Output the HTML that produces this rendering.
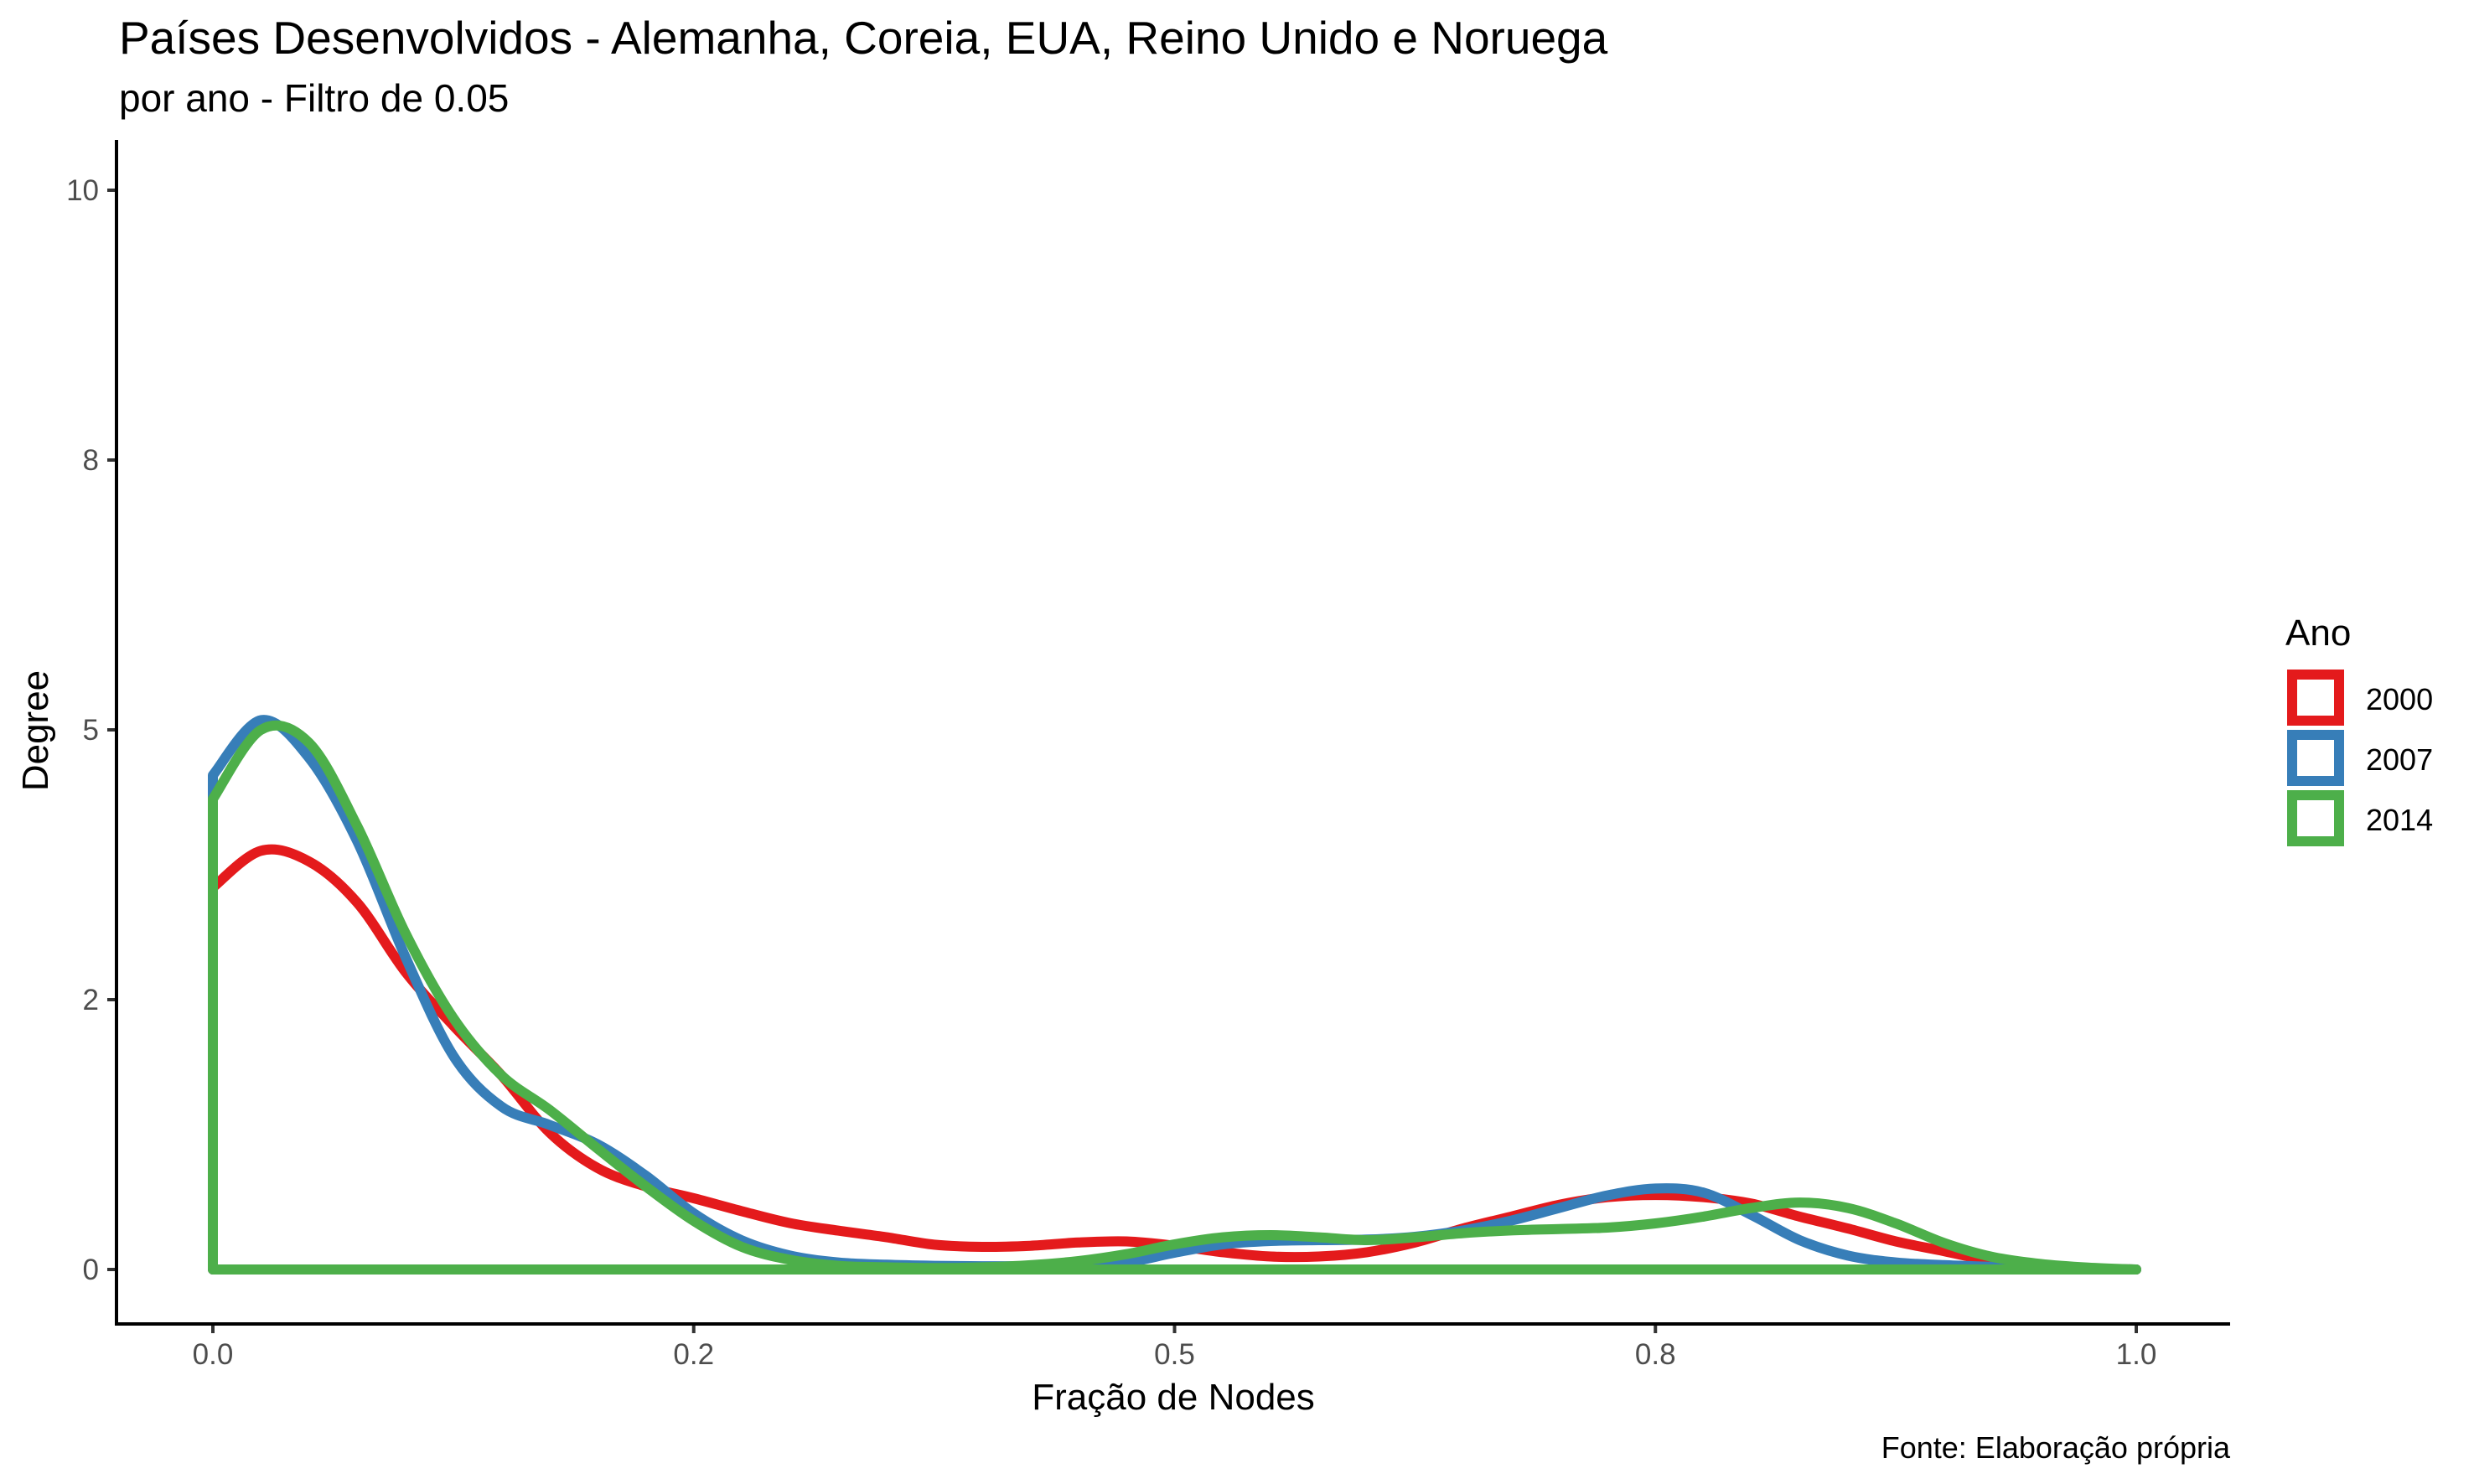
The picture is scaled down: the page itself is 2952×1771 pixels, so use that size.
<!DOCTYPE html>
<html><head><meta charset="utf-8"><style>
html,body{margin:0;padding:0;background:#fff;}
svg{display:block;font-family:"Liberation Sans",Arial,sans-serif;}
</style></head><body>
<svg id="chart" width="2952" height="1771" viewBox="0 0 2952 1771" xmlns="http://www.w3.org/2000/svg">
<rect width="2952" height="1771" fill="#fff"/>
<text x="142" y="64" font-size="55" fill="#000">Países Desenvolvidos - Alemanha, Coreia, EUA, Reino Unido e Noruega</text>
<text x="142" y="133" font-size="46" fill="#000">por ano - Filtro de 0.05</text>
<g id="series"></g>
<line x1="139" y1="167" x2="139" y2="1581" stroke="#000" stroke-width="4"/>
<line x1="137" y1="1580" x2="2661" y2="1580" stroke="#000" stroke-width="4"/>
<g id="xticks"></g>
<g id="yticks"></g>
<text x="1400" y="1682" font-size="44" text-anchor="middle" fill="#000">Fração de Nodes</text>
<text x="0" y="0" font-size="44" text-anchor="middle" fill="#000" transform="translate(57,872) rotate(-90)">Degree</text>
<text x="2661" y="1740" font-size="36" text-anchor="end" fill="#000">Fonte: Elaboração própria</text>
<g>
<text x="2727" y="770" font-size="44" fill="#000">Ano</text>
<rect x="2735" y="805" width="56" height="55" fill="none" stroke="#E41A1C" stroke-width="12"/>
<text x="2823" y="847" font-size="36" fill="#000">2000</text>
<rect x="2735" y="877" width="56" height="55" fill="none" stroke="#377EB8" stroke-width="12"/>
<text x="2823" y="919" font-size="36" fill="#000">2007</text>
<rect x="2735" y="949" width="56" height="55" fill="none" stroke="#4DAF4A" stroke-width="12"/>
<text x="2823" y="991" font-size="36" fill="#000">2014</text>
</g>
</svg>
<script>
const xStep = 0.025;
const red2000 = [3.54,3.88,3.78,3.40,2.76,2.26,1.80,1.27,0.94,0.77,0.66,0.54,0.43,0.36,0.30,0.23,0.21,0.22,0.25,0.26,0.22,0.16,0.12,0.12,0.16,0.25,0.38,0.49,0.60,0.67,0.69,0.67,0.61,0.49,0.38,0.26,0.17,0.08,0.03,0.01,0];
const blue2007 = [4.58,5.09,4.74,3.97,2.90,1.98,1.51,1.34,1.16,0.87,0.52,0.27,0.13,0.065,0.044,0.034,0.03,0.03,0.035,0.065,0.155,0.233,0.264,0.272,0.277,0.303,0.362,0.453,0.57,0.686,0.75,0.712,0.505,0.272,0.129,0.065,0.04,0.025,0.01,0.005,0];
const green2014 = [4.36,5.00,4.88,4.11,3.12,2.33,1.80,1.48,1.12,0.77,0.45,0.21,0.09,0.034,0.02,0.013,0.02,0.04,0.078,0.142,0.233,0.298,0.318,0.298,0.272,0.298,0.337,0.362,0.375,0.388,0.427,0.49,0.57,0.62,0.57,0.427,0.246,0.117,0.052,0.018,0];
const xTickValues = [0, 0.25, 0.5, 0.75, 1];
const xTickLabels = ["0.0", "0.2", "0.5", "0.8", "1.0"];
const yTickValues = [0, 2.5, 5, 7.5, 10];
const yTickLabels = ["0", "2", "5", "8", "10"];

const NS = "http://www.w3.org/2000/svg";
function sx(v){ return 254 + v * 2295; }
function sy(v){ return 1515 - v * 128.8; }

function smoothPath(vals){
  const pts = vals.map((v,i)=>[sx(i*xStep), sy(v)]);
  let d = "M" + sx(0) + "," + sy(0) + " L" + pts[0][0] + "," + pts[0][1];
  for (let i=0;i<pts.length-1;i++){
    const p0 = pts[Math.max(0,i-1)], p1 = pts[i], p2 = pts[i+1], p3 = pts[Math.min(pts.length-1,i+2)];
    const c1x = p1[0] + (p2[0]-p0[0])/6, c1y = p1[1] + (p2[1]-p0[1])/6;
    const c2x = p2[0] - (p3[0]-p1[0])/6, c2y = p2[1] - (p3[1]-p1[1])/6;
    d += " C" + c1x.toFixed(1) + "," + c1y.toFixed(1) + " " + c2x.toFixed(1) + "," + c2y.toFixed(1) + " " + p2[0].toFixed(1) + "," + p2[1].toFixed(1);
  }
  d += " L" + sx(0) + "," + sy(0) + " Z";
  return d;
}

const layer = document.getElementById("series");
const seriesList = [[red2000,"#E41A1C","density-2000"],[blue2007,"#377EB8","density-2007"],[green2014,"#4DAF4A","density-2014"]];
seriesList.forEach(s=>{
  const p = document.createElementNS(NS,"path");
  p.setAttribute("d", smoothPath(s[0]));
  p.setAttribute("fill","none");
  p.setAttribute("stroke", s[1]);
  p.setAttribute("stroke-width","12");
  p.setAttribute("stroke-linejoin","round");
  p.setAttribute("stroke-linecap","round");
  
  
  layer.appendChild(p);
});

const xg = document.getElementById("xticks");
xTickValues.forEach((v,i)=>{
  const l = document.createElementNS(NS,"line");
  l.setAttribute("x1", sx(v)); l.setAttribute("x2", sx(v));
  l.setAttribute("y1", 1582); l.setAttribute("y2", 1591);
  l.setAttribute("stroke","#333"); l.setAttribute("stroke-width","4");
  
  
  xg.appendChild(l);
  const t = document.createElementNS(NS,"text");
  t.setAttribute("x", sx(v)); t.setAttribute("y", 1628);
  t.setAttribute("font-size","35"); t.setAttribute("fill","#4D4D4D");
  t.setAttribute("text-anchor","middle");
  t.textContent = xTickLabels[i];
  
  
  xg.appendChild(t);
});
const yg = document.getElementById("yticks");
yTickValues.forEach((v,i)=>{
  const l = document.createElementNS(NS,"line");
  l.setAttribute("x1", 128); l.setAttribute("x2", 137);
  l.setAttribute("y1", sy(v)); l.setAttribute("y2", sy(v));
  l.setAttribute("stroke","#333"); l.setAttribute("stroke-width","4");
  
  
  yg.appendChild(l);
  const t = document.createElementNS(NS,"text");
  t.setAttribute("x", 118); t.setAttribute("y", sy(v) + 12);
  t.setAttribute("font-size","35"); t.setAttribute("fill","#4D4D4D");
  t.setAttribute("text-anchor","end");
  t.textContent = yTickLabels[i];
  
  
  yg.appendChild(t);
});
</script>
</body></html>
